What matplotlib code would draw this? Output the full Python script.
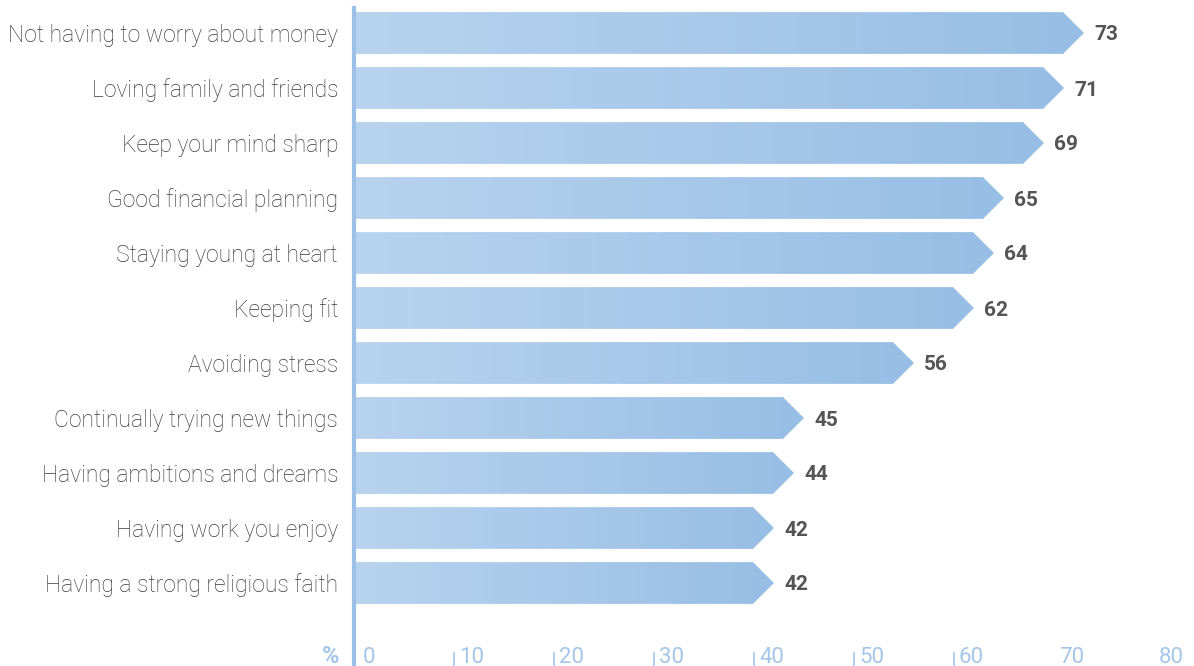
import matplotlib.pyplot as plt
import numpy as np
from matplotlib.patches import Polygon
from matplotlib.colors import LinearSegmentedColormap

categories = [
    "Not having to worry about money",
    "Loving family and friends",
    "Keep your mind sharp",
    "Good financial planning",
    "Staying young at heart",
    "Keeping fit",
    "Avoiding stress",
    "Continually trying new things",
    "Having ambitions and dreams",
    "Having work you enjoy",
    "Having a strong religious faith",
]
values = [73, 71, 69, 65, 64, 62, 56, 45, 44, 42, 42]
tick_values = [0, 10, 20, 30, 40, 50, 60, 70, 80]
marked_ticks = [10, 20, 30, 40, 50, 60]

plt.rcParams["font.family"] = ["Roboto", "DejaVu Sans"]

W, H = 1194, 666
fig = plt.figure(figsize=(W / 100, H / 100), dpi=100)
ax = fig.add_axes([354 / W, 0, 800 / W, (666 - 8) / H])

n = len(values)
ax.set_xlim(0, 80)
ax.set_ylim(n - 1 + 83 / 55, -25 / 55)

bar_cmap = LinearSegmentedColormap.from_list("bar", ["#b8d3ee", "#97bee5"])
grad = np.linspace(0, 1, 256).reshape(1, -1)
half = 0.38
tip = 2.1

# arrow-shaped bars filled with a left-to-right gradient
for i, (cat, v) in enumerate(zip(categories, values)):
    pts = [(0, i - half), (v - tip, i - half), (v, i), (v - tip, i + half), (0, i + half)]
    poly = Polygon(pts, closed=True, facecolor="none", edgecolor="none")
    ax.add_patch(poly)
    im = ax.imshow(grad, cmap=bar_cmap, aspect="auto",
                   extent=(0, v, i + half, i - half), interpolation="bilinear")
    im.set_clip_path(poly)
    ax.text(v + 1.0, i, str(v), ha="left", va="center_baseline", fontsize=15,
            fontweight="bold", color="#555555")
    ax.text(-1.6, i, cat, ha="right", va="center_baseline", fontsize=16.5,
            fontweight="light", color="#3a3a3a")

# scale labels sit inside the plot area along the bottom
label_y = n - 1 + 80 / 55
for t in tick_values:
    off = 0.9 if t == 0 else 0.5
    ax.text(t + off, label_y, str(t), ha="left", va="baseline",
            fontsize=16, fontweight="normal", color="#a4c6ea")

ax.vlines(marked_ticks, n - 1 + 69 / 55, n - 1 + 83 / 55,
          color="#a4c6ea", linewidth=1.2)
ax.text(-1.5, label_y, "%", ha="right", va="baseline",
        fontsize=17, fontweight="bold", color="#a4c6ea")

for side in ["top", "right", "bottom"]:
    ax.spines[side].set_visible(False)
ax.spines["left"].set_linewidth(3)
ax.spines["left"].set_color("#9cc0e6")
ax.set_xticks([])
ax.set_yticks([])
ax.patch.set_alpha(0)

fig.savefig("out.png", dpi=100)
